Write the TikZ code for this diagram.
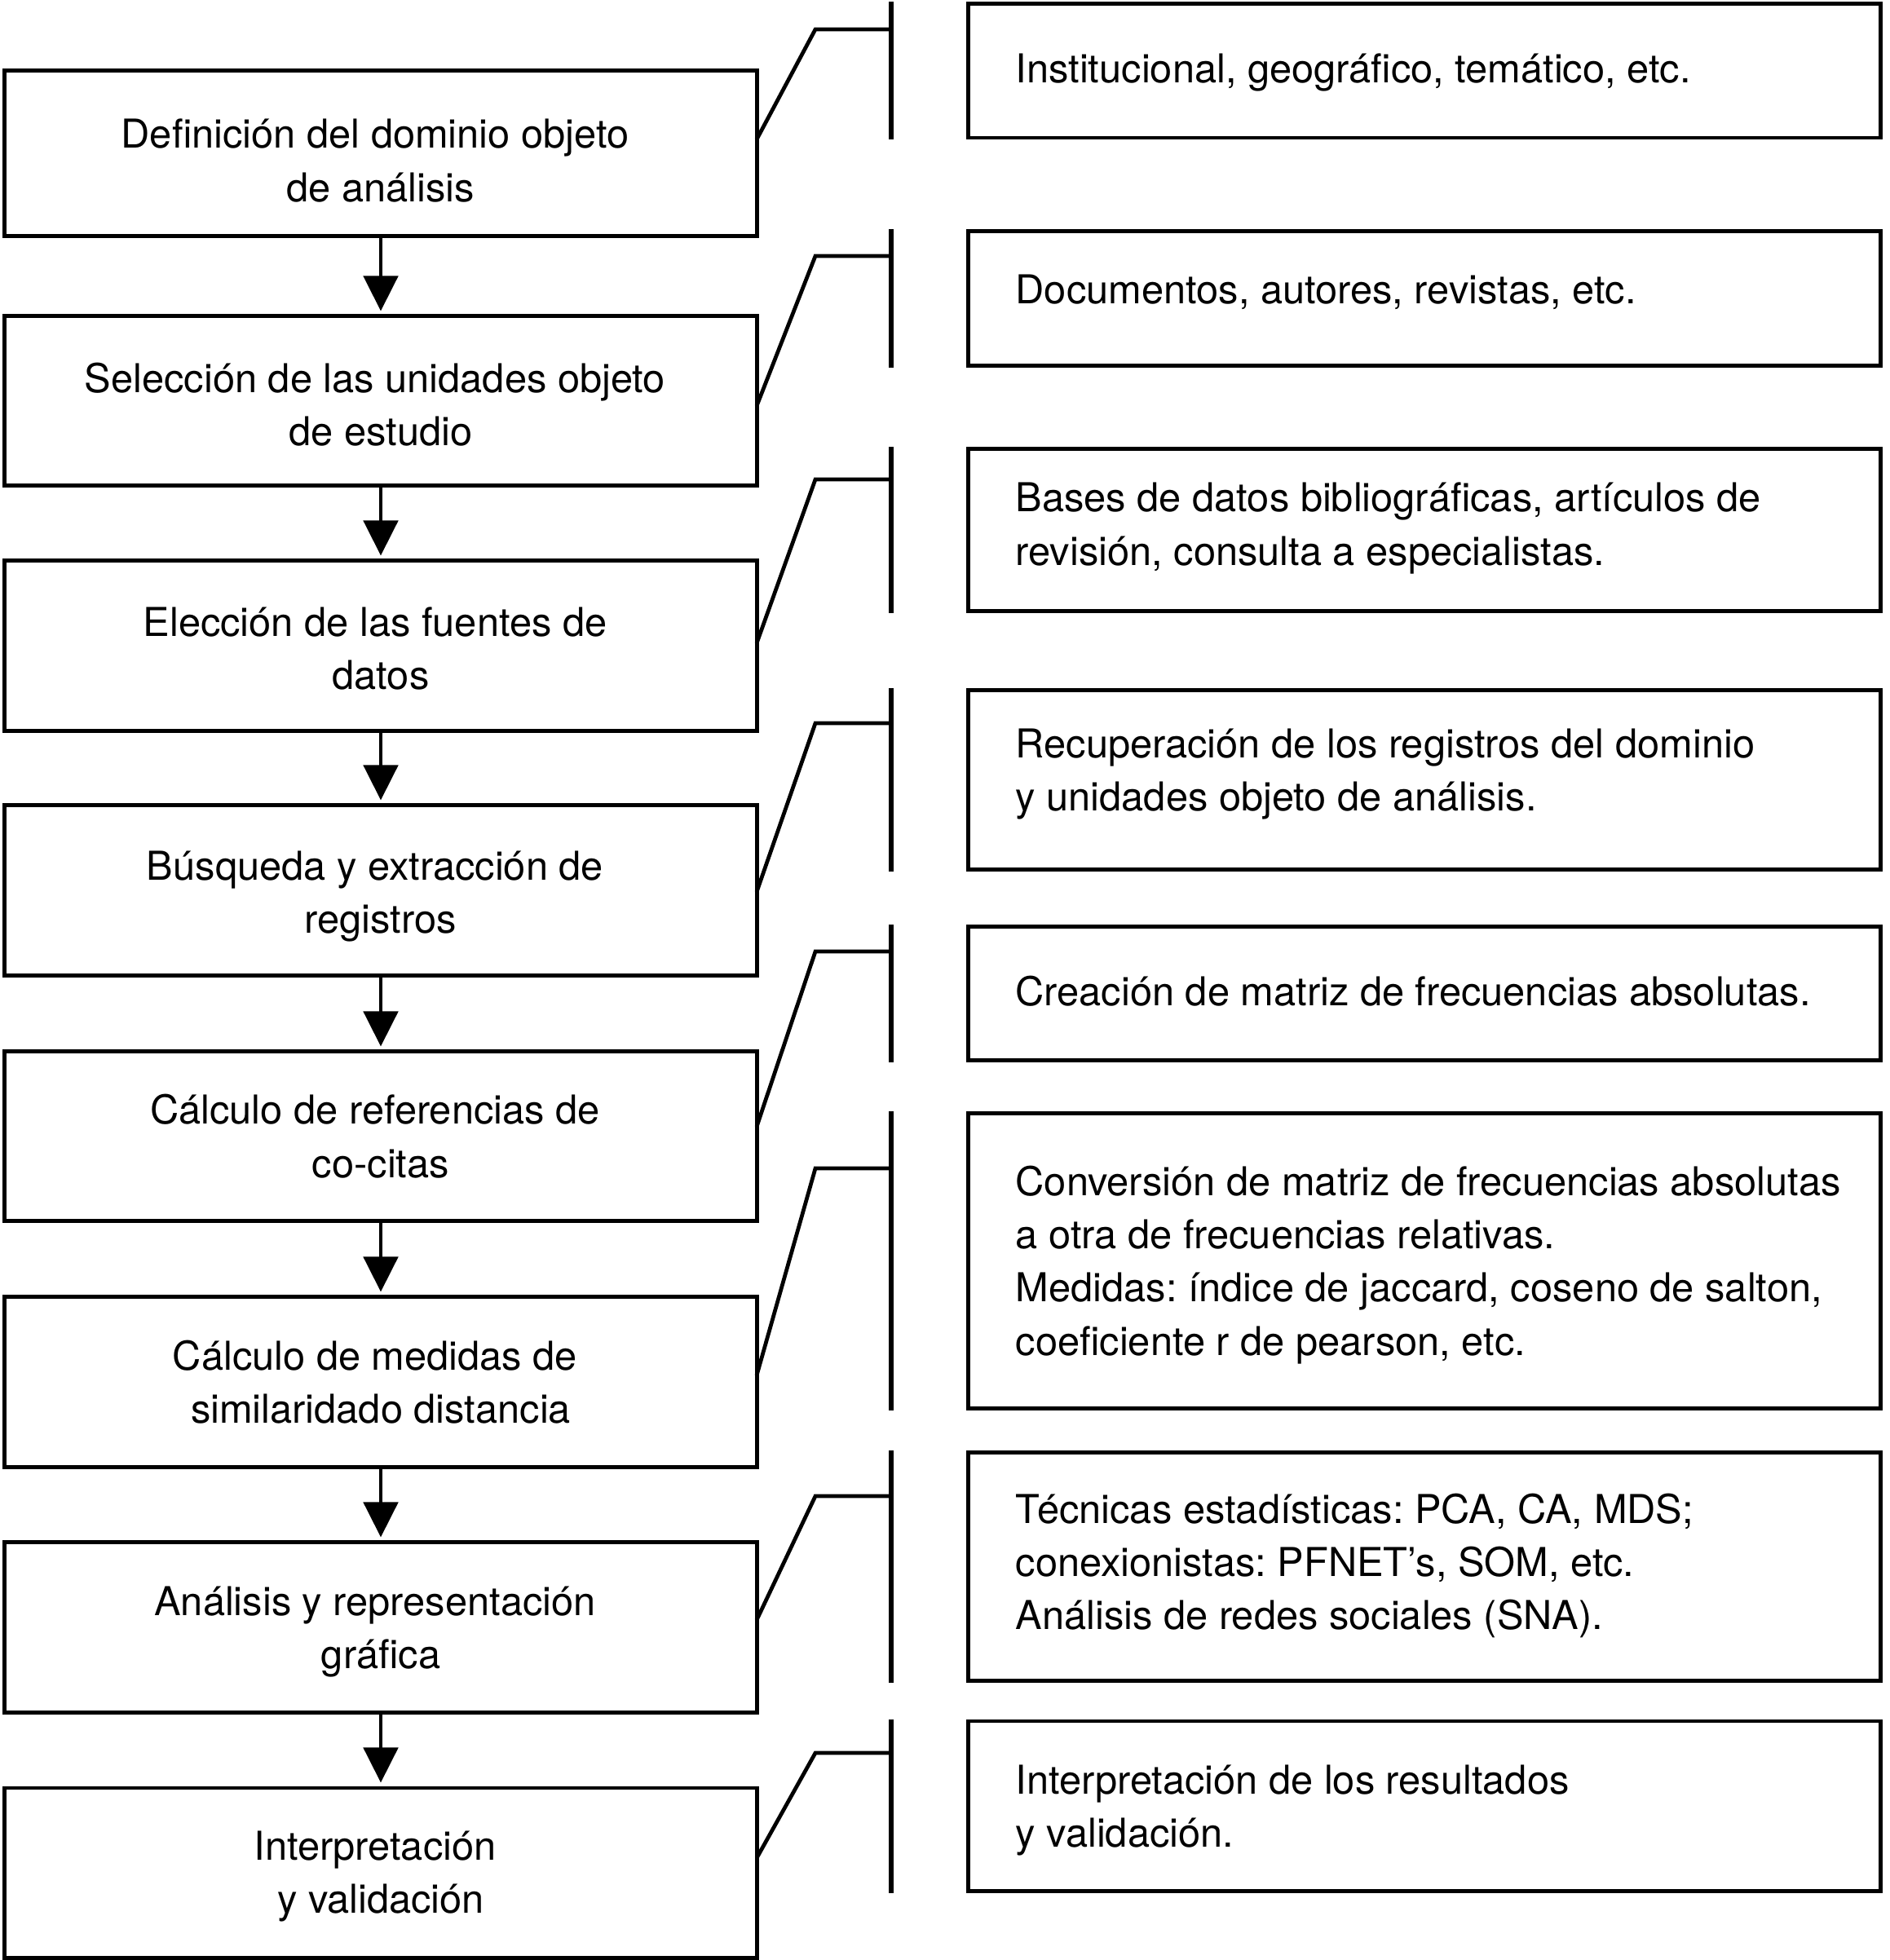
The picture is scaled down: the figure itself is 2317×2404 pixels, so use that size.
\documentclass[tikz,border=0pt]{standalone}
\usepackage{fontspec}
\setmainfont{TeX Gyre Heros}
\usetikzlibrary{arrows.meta}
\frenchspacing
\begin{document}
\begin{tikzpicture}[x=0.01cm,y=-0.01cm,
  lbox/.style={draw, line width=1.4pt, rectangle, minimum width=9.22cm, inner sep=0pt},
  rbox/.style={draw, line width=1.4pt, rectangle, minimum width=11.19cm, inner sep=0pt},
  ltxt/.style={anchor=base, inner sep=0pt, font=\fontsize{13.87pt}{18.58pt}\selectfont},
  rtxt/.style={anchor=base west, inner sep=0pt, font=\fontsize{13.87pt}{18.58pt}\selectfont},
  conn/.style={line width=1.35pt, line join=miter},
  bar/.style={line width=1.45pt},
  arr/.style={line width=1.4pt, shorten >=0.04cm, -{Triangle[width=0.42cm,length=0.43cm]}}]
\useasboundingbox (0,0) rectangle (2317,2404);

% left boxes
\node[lbox, minimum height=2.02cm] (L1) at (467,188) {};
\node[lbox, minimum height=2.07cm] (L2) at (467,491.5) {};
\node[lbox, minimum height=2.08cm] (L3) at (467,792) {};
\node[lbox, minimum height=2.08cm] (L4) at (467,1092) {};
\node[lbox, minimum height=2.07cm] (L5) at (467,1393.5) {};
\node[lbox, minimum height=2.08cm] (L6) at (467,1695) {};
\node[lbox, minimum height=2.08cm] (L7) at (467,1996) {};
\node[lbox, minimum height=2.08cm] (L8) at (467,2297) {};

% left texts
\node[ltxt] (L1t) at (467,181.7) {\begin{tabular}[t]{@{}c@{}}Definición del dominio objeto\kern4pt\\de análisis\end{tabular}};
\node[ltxt] (L2t) at (467,481.6) {\begin{tabular}[t]{@{}c@{}}Selección de las unidades objeto\kern4pt\\de estudio\end{tabular}};
\node[ltxt] (L3t) at (467,780.5) {\begin{tabular}[t]{@{}c@{}}Elección de las fuentes de\kern4pt\\datos\end{tabular}};
\node[ltxt] (L4t) at (467,1079.6) {\begin{tabular}[t]{@{}c@{}}Búsqueda y extracción de\kern4pt\\registros\end{tabular}};
\node[ltxt] (L5t) at (467,1378.8) {\begin{tabular}[t]{@{}c@{}}Cálculo de referencias de\kern4pt\\co-citas\end{tabular}};
\node[ltxt] (L6t) at (467,1680) {\begin{tabular}[t]{@{}c@{}}Cálculo de medidas de\kern4pt\\similaridado distancia\end{tabular}};
\node[ltxt] (L7t) at (467,1981) {\begin{tabular}[t]{@{}c@{}}Análisis y representación\kern4pt\\gráfica\end{tabular}};
\node[ltxt] (L8t) at (467,2281) {\begin{tabular}[t]{@{}c@{}}Interpretación\kern4pt\\y validación\end{tabular}};

% arrows
\draw[arr] (L1) -- (L2);
\draw[arr] (L2) -- (L3);
\draw[arr] (L3) -- (L4);
\draw[arr] (L4) -- (L5);
\draw[arr] (L5) -- (L6);
\draw[arr] (L6) -- (L7);
\draw[arr] (L7) -- (L8);

% right boxes
\node[rbox, minimum height=1.64cm] (R1) at (1747,87) {};
\node[rbox, minimum height=1.64cm] (R2) at (1747,366) {};
\node[rbox, minimum height=1.98cm] (R3) at (1747,650) {};
\node[rbox, minimum height=2.19cm] (R4) at (1747,956.5) {};
\node[rbox, minimum height=1.63cm] (R5) at (1747,1218.5) {};
\node[rbox, minimum height=3.61cm] (R6) at (1747,1546.5) {};
\node[rbox, minimum height=2.79cm] (R7) at (1747,1921.5) {};
\node[rbox, minimum height=2.08cm] (R8) at (1747,2215) {};

% right texts
\node[rtxt] (R1t) at (1245,101.5) {\begin{tabular}[t]{@{}l@{}}Institucional, geográfico, temático, etc.\end{tabular}};
\node[rtxt] (R2t) at (1245,373) {\begin{tabular}[t]{@{}l@{}}Documentos, autores, revistas, etc.\end{tabular}};
\node[rtxt] (R3t) at (1245,628) {\begin{tabular}[t]{@{}l@{}}Bases de datos bibliográficas, artículos de\\revisión, consulta a especialistas.\end{tabular}};
\node[rtxt] (R4t) at (1245,929) {\begin{tabular}[t]{@{}l@{}}Recuperación de los registros del dominio\\y unidades objeto de análisis.\end{tabular}};
\node[rtxt] (R5t) at (1245,1233) {\begin{tabular}[t]{@{}l@{}}Creación de matriz de frecuencias absolutas.\end{tabular}};
\node[rtxt] (R6t) at (1245,1466) {\begin{tabular}[t]{@{}l@{}}Conversión de matriz de frecuencias absolutas\\a otra de frecuencias relativas.\\Medidas: índice de jaccard, coseno de salton,\\coeficiente r de pearson, etc.\end{tabular}};
\node[rtxt] (R7t) at (1245,1868) {\begin{tabular}[t]{@{}l@{}}Técnicas estadísticas: PCA, CA, MDS;\\conexionistas: PFNET’s, SOM, etc.\\Análisis de redes sociales (SNA).\end{tabular}};
\node[rtxt] (R8t) at (1245,2200) {\begin{tabular}[t]{@{}l@{}}Interpretación de los resultados\\y validación.\end{tabular}};

% connector points
\coordinate (S1) at (928,171);  \coordinate (T1) at (1000,36);   \coordinate (B1) at (1093,36);
\coordinate (S2) at (928,498);  \coordinate (T2) at (1000,314);  \coordinate (B2) at (1093,314);
\coordinate (S3) at (928,789);  \coordinate (T3) at (1000,588);  \coordinate (B3) at (1093,588);
\coordinate (S4) at (928,1094); \coordinate (T4) at (1000,887);  \coordinate (B4) at (1093,887);
\coordinate (S5) at (928,1382); \coordinate (T5) at (1000,1167); \coordinate (B5) at (1093,1167);
\coordinate (S6) at (928,1687); \coordinate (T6) at (1000,1433); \coordinate (B6) at (1093,1433);
\coordinate (S7) at (928,1987); \coordinate (T7) at (1000,1835); \coordinate (B7) at (1093,1835);
\coordinate (S8) at (928,2279); \coordinate (T8) at (1000,2150); \coordinate (B8) at (1093,2150);

% connectors and bars
\foreach \i in {1,...,8}{
  \draw[conn] (S\i) -- (T\i) -- (B\i);
  \draw[bar] (B\i |- R\i.north) -- (B\i |- R\i.south);
}
\end{tikzpicture}
\end{document}
